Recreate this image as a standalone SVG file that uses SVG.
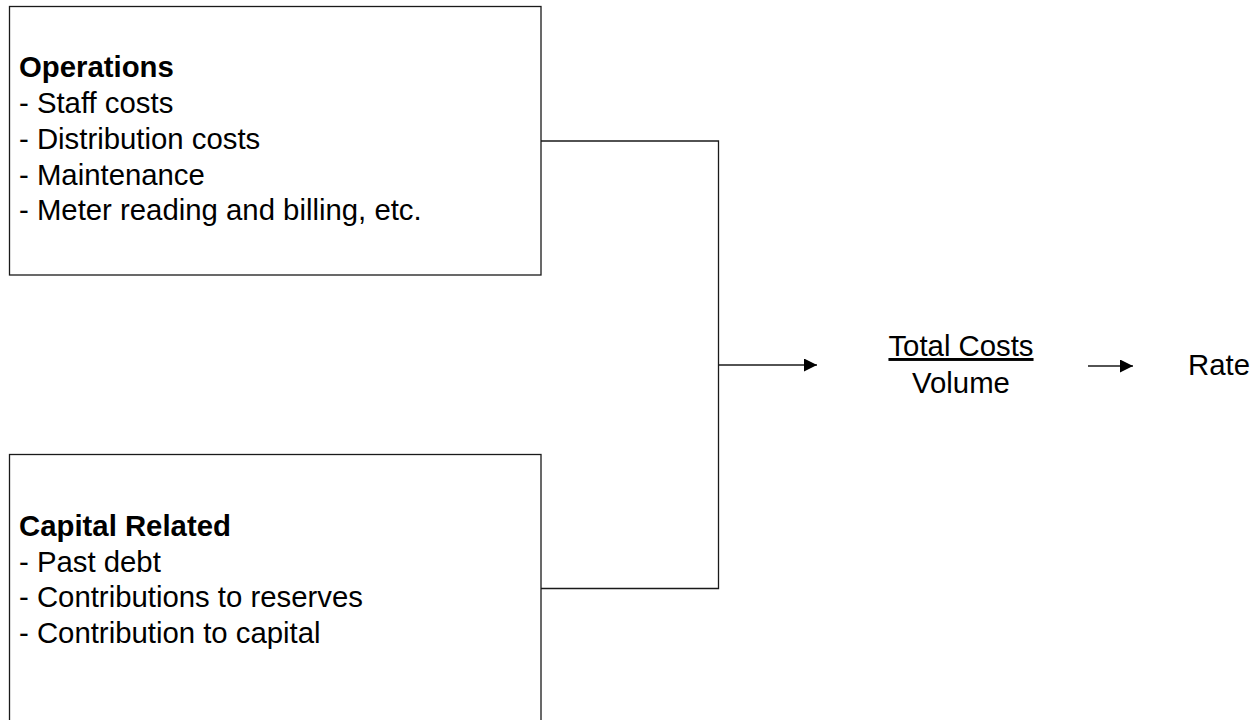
<svg xmlns="http://www.w3.org/2000/svg" width="1255" height="720" viewBox="0 0 1255 720">
  <style>
    .box { fill: #ffffff; stroke: #1a1a1a; stroke-width: 1.3; }
    .conn { fill: none; stroke: #1a1a1a; stroke-width: 1.3; }
    .t { font-family: "Liberation Sans", Arial, sans-serif; font-size: 29.33px; fill: #000000; }
    .b { font-weight: bold; }
  </style>
  <defs>
    <marker id="arrow" markerUnits="userSpaceOnUse" markerWidth="14" markerHeight="14" refX="13" refY="6.5" orient="auto">
      <path d="M0,0 L13,6.5 L0,13 Z" fill="#000000"/>
    </marker>
  </defs>
  <rect width="1255" height="720" fill="#ffffff"/>
  <g id="connectors">
    <path class="conn" d="M541 141 H718.5 V588.5 H541"/>
    <path class="conn" d="M718.5 365 H817" marker-end="url(#arrow)"/>
    <path class="conn" d="M1088 366 H1133" marker-end="url(#arrow)"/>
  </g>
  <g id="operations">
    <rect class="box" x="9.5" y="6.5" width="531.5" height="268.5"/>
    <text class="t b" x="19" y="77">Operations</text>
    <text class="t" x="19" y="113">- Staff costs</text>
    <text class="t" x="19" y="149">- Distribution costs</text>
    <text class="t" x="19" y="185">- Maintenance</text>
    <text class="t" x="19" y="220">- Meter reading and billing, etc.</text>
  </g>
  <g id="capital">
    <rect class="box" x="9.5" y="454.5" width="531.5" height="290"/>
    <text class="t b" x="19" y="536">Capital Related</text>
    <text class="t" x="19" y="572">- Past debt</text>
    <text class="t" x="19" y="607">- Contributions to reserves</text>
    <text class="t" x="19" y="643">- Contribution to capital</text>
  </g>
  <g id="formula">
    <text class="t" x="961" y="356" text-anchor="middle" text-decoration="underline">Total Costs</text>
    <text class="t" x="961" y="393" text-anchor="middle">Volume</text>
  </g>
  <g id="rate">
    <text class="t" x="1188" y="375">Rate</text>
  </g>
</svg>
